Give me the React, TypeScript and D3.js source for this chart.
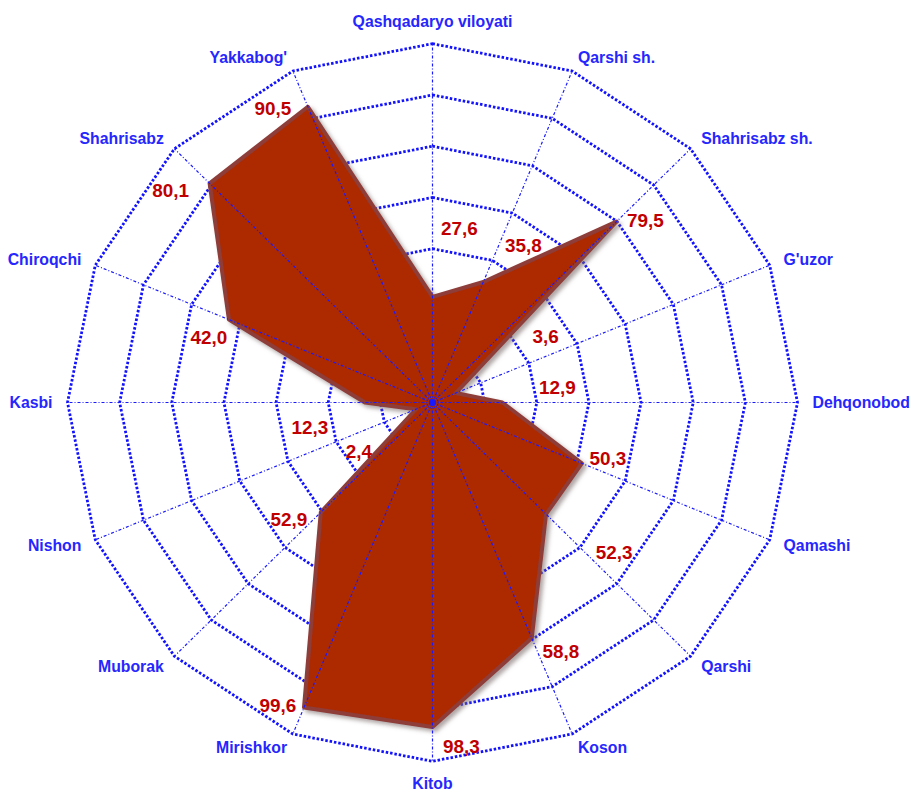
import React from "react";
import * as d3 from "d3";

// Categories (clockwise from top)
const categories = [
  "Qashqadaryo viloyati", "Qarshi sh.", "Shahrisabz sh.", "G'uzor", "Dehqonobod",
  "Qamashi", "Qarshi", "Koson", "Kitob", "Mirishkor", "Muborak", "Nishon",
  "Kasbi", "Chiroqchi", "Shahrisabz", "Yakkabog'",
];
const plottedValues = [41.2, 50.9, 99.8, 9.6, 26.8, 62.0, 61.6, 99.5, 126.6, 128.8, 60.6, 6.9, 25.9, 84.5, 120.9, 124.9];
// Data label texts shown on the chart
const dataLabels = ["27,6", "35,8", "79,5", "3,6", "12,9", "50,3", "52,3", "58,8", "98,3", "99,6", "52,9", "2,4", "12,3", "42,0", "80,1", "90,5"];
// Radial axis ticks (rings)
const axisTicks = [20, 40, 60, 80, 100, 120, 140];

// Layout: data label offsets from their points (px)
const labelOffsets: [number, number][] = [
  [27, -68], [40, -36], [29, -1], [90, -57], [55, -15], [26, -5], [68, 38], [29, 13],
  [29, 20], [-26, -2], [-32, 7], [-57, 42], [-55, 25], [-20, 18], [-39, 7], [-35, 2],
];

const W = 910, H = 791;
const cx = 432.5, cy = 402.5, R = 365, ky = 0.983;
const FONT = "'Liberation Sans', Arial, Helvetica, sans-serif";

export default function App() {
  const n = categories.length;
  const r = d3.scaleLinear().domain([0, 140]).range([0, R]);
  const ang = d3.scaleLinear().domain([0, n]).range([0, 2 * Math.PI]);
  const pt = (i: number, rad: number): [number, number] => {
    const a = ang(i);
    return [cx + Math.sin(a) * rad, cy - Math.cos(a) * rad * ky];
  };
  const line = d3.line<[number, number]>().curve(d3.curveLinearClosed);

  const rings = axisTicks.map((t) => line(d3.range(n).map((i) => pt(i, r(t))))!);
  const poly = line(plottedValues.map((v, i) => pt(i, r(v))))!;

  return (
    <svg width={W} height={H} style={{ position: "absolute", left: 0, top: 0, display: "block", background: "#fff" }}>
      <defs>
        <filter id="shadow" x="-20%" y="-20%" width="140%" height="140%">
          <feDropShadow dx="3" dy="3" stdDeviation="2" floodColor="#7a6a6a" floodOpacity="0.6" />
        </filter>
      </defs>
      {rings.map((d, k) => (
        <path key={k} d={d} fill="none" stroke="#1212ff" strokeWidth={2.8} strokeDasharray="2.5 1.9" />
      ))}
      <path d={poly} fill="#ad2a00" stroke="#8e3c38" strokeWidth={4} strokeLinejoin="round" filter="url(#shadow)" />
      {d3.range(n).map((i) => {
        const [x2, y2] = pt(i, R);
        return (
          <line key={i} x1={cx} y1={cy} x2={x2} y2={y2} stroke="#1a1aff" strokeWidth={1.2} strokeDasharray="3 2 1 2" />
        );
      })}
      <circle cx={cx} cy={cy} r={3} fill="none" stroke="#1a1aff" strokeWidth={1.3} />
      <circle cx={cx} cy={cy} r={6} fill="none" stroke="#1a1aff" strokeWidth={1} strokeDasharray="1 1.5" />
      {categories.map((c, i) => {
        const [x, y] = pt(i, R + 15);
        const s = Math.sin(ang(i));
        const anchor = Math.abs(s) < 0.01 ? "middle" : s > 0 ? "start" : "end";
        const cosv = Math.cos(ang(i));
        const yy = Math.abs(s) < 0.01 ? y - 7.5 * Math.sign(cosv) : y;
        return (
          <text key={c} x={x} y={yy} textAnchor={anchor} dominantBaseline="central"
            fontFamily={FONT} fontWeight="bold" fontSize={15.8} fill="#2626ff">{c}</text>
        );
      })}
      {dataLabels.map((t, i) => {
        const [x, y] = pt(i, r(plottedValues[i]));
        const [dx, dy] = labelOffsets[i];
        return (
          <text key={i} x={x + dx} y={y + dy} textAnchor="middle" dominantBaseline="central"
            fontFamily={FONT} fontWeight="bold" fontSize={18.9} fill="#c00000">{t}</text>
        );
      })}
    </svg>
  );
}
